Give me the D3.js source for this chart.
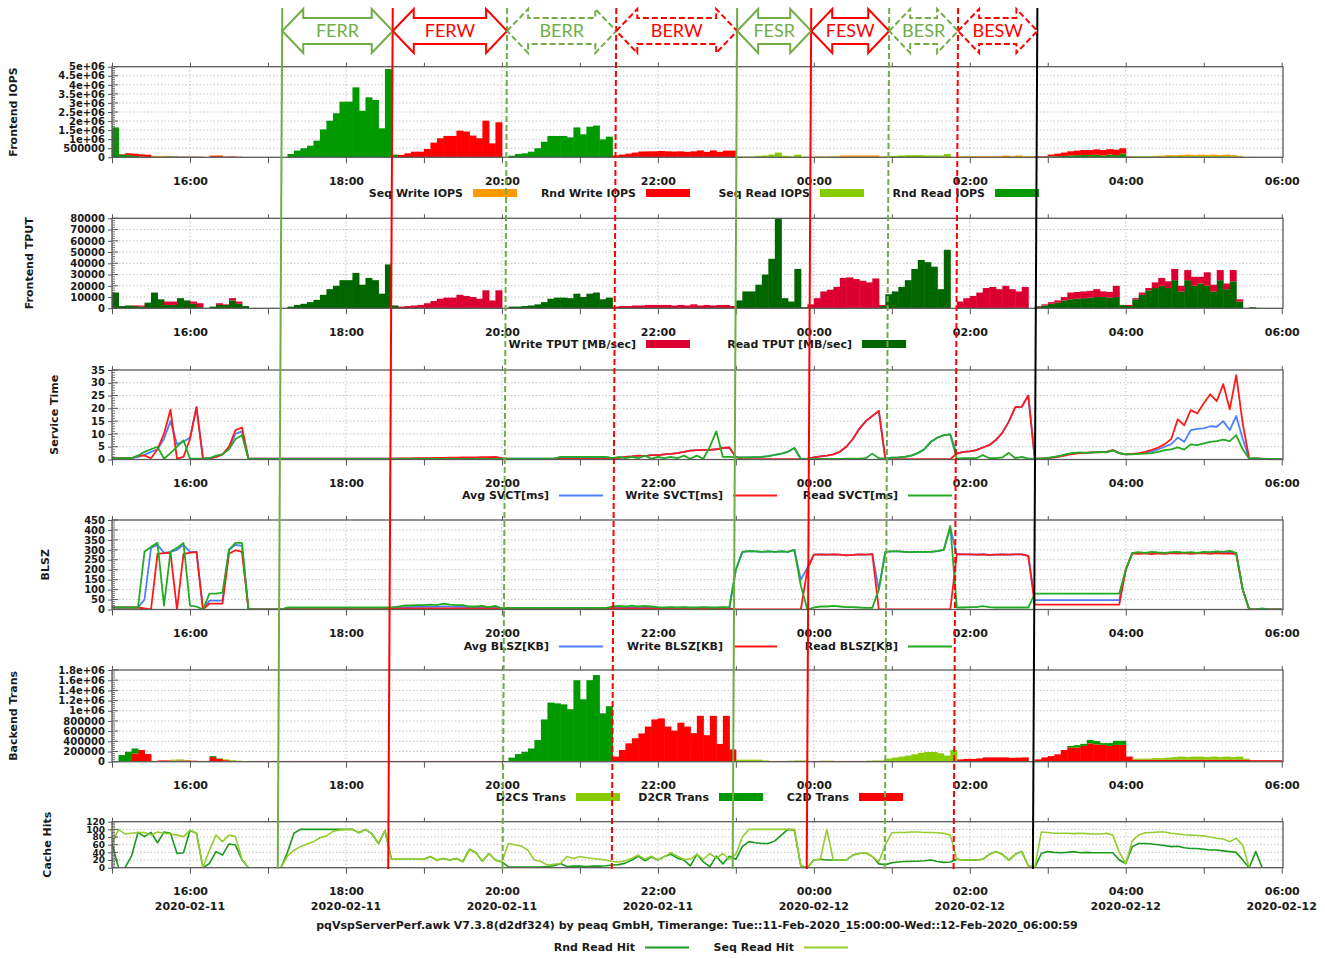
<!DOCTYPE html>
<html>
<head>
<meta charset="utf-8">
<script src="https://d3js.org/d3.v7.min.js"></script>
<style>
  body { margin: 0; background: #fff; }
</style>
</head>
<body>
<div id="chart"></div>
<script>
// 5 minute slots starting 2020-02-11 15:00, one row per hour
const seqWriteIopsK = [
  0,0,0,0,0,0,40,40,10,0,0,0,
  0,0,0,30,30,10,0,0,0,0,0,0,
  0,0,0,0,0,0,0,0,0,0,0,0,
  0,0,0,0,0,0,0,0,0,0,0,0,
  0,0,0,0,0,0,0,0,0,0,0,0,
  0,0,0,0,0,0,0,0,0,0,0,0,
  0,0,0,0,0,0,0,0,0,0,0,0,
  0,0,0,0,0,0,0,0,0,0,0,0,
  0,0,0,0,0,0,0,0,0,0,0,0,
  40,40,50,50,100,100,100,100,100,100,40,0,
  0,0,0,0,0,0,0,0,0,0,50,60,
  60,60,60,60,60,100,60,100,60,60,0,0,
  0,0,0,0,0,0,0,0,0,0,0,0,
  0,0,0,0,20,30,50,40,60,80,50,80,
  60,80,50,80,60,30,0,0,0,0,0,0
];
const rndWriteIopsK = [
  0,20,100,120,120,120,20,10,10,10,10,10,
  10,10,0,50,60,20,20,10,0,0,0,0,
  0,0,0,0,0,0,0,0,0,0,0,0,
  0,0,0,0,0,0,0,0,130,220,310,310,
  460,810,1050,1180,1180,1470,1420,1200,1050,2020,770,1930,
  0,0,0,0,0,0,0,0,0,0,0,0,
  0,0,0,0,0,100,150,200,260,320,330,330,
  350,330,320,330,300,330,380,300,380,300,370,370,
  0,0,0,0,0,0,0,0,0,0,0,0,
  0,0,0,0,0,0,0,0,0,0,0,0,
  0,0,0,0,0,0,0,0,0,0,0,0,
  0,0,0,0,0,0,0,0,0,0,30,30,
  100,140,180,230,250,270,270,300,300,300,300,300,
  20,0,0,0,0,0,0,0,0,0,0,0,
  0,0,0,0,0,0,0,0,0,0,0,0
];
const seqReadIopsK = [
  0,0,0,0,0,0,0,0,20,20,0,0,
  0,0,0,0,0,0,0,0,0,0,0,0,
  0,0,0,0,0,0,0,0,0,0,0,0,
  0,0,0,0,0,0,0,0,0,0,0,0,
  0,0,0,0,0,0,0,0,0,0,0,0,
  0,0,0,0,0,0,0,0,0,0,0,0,
  0,0,0,0,0,0,0,0,0,0,0,0,
  0,0,0,0,0,0,0,0,0,0,0,0,
  40,40,40,80,100,150,260,80,50,150,30,0,
  0,0,0,0,0,0,0,0,0,0,0,60,
  80,100,120,120,120,100,100,100,180,20,0,0,
  0,0,0,0,0,0,0,0,0,0,0,0,
  0,0,0,0,0,0,0,0,0,0,0,0,
  0,40,40,40,50,50,60,60,60,60,60,60,
  60,60,60,60,50,40,0,0,0,0,0,0
];
const rndReadIopsK = [
  1650,160,120,80,40,20,20,30,40,40,30,30,
  30,20,0,20,30,20,30,20,10,0,0,0,
  0,0,0,180,370,500,640,920,1540,2020,2430,3070,
  3070,3860,2570,3310,3160,1600,4870,150,0,0,0,0,
  0,0,0,0,0,0,0,0,0,0,0,0,
  0,90,180,220,310,500,860,1180,1180,1180,1100,1650,
  1270,1690,1750,990,1140,0,0,0,0,0,0,0,
  0,0,0,0,0,0,0,0,0,0,0,0,
  0,0,0,0,0,0,0,0,0,0,0,0,
  0,0,0,0,0,0,0,0,0,0,0,0,
  0,0,0,0,0,0,0,0,0,0,0,0,
  0,0,0,0,0,0,0,0,0,0,20,20,
  50,60,80,100,120,130,130,140,100,150,120,200,
  30,20,20,20,10,10,10,10,10,10,10,10,
  10,10,10,10,10,10,0,20,0,0,0,0
];

const writeTput = [
  0,0,0,500,1000,0,0,0,3000,3000,0,0,
  2000,3500,0,0,1500,500,2000,2000,0,0,0,0,
  0,0,0,0,0,0,0,0,0,0,0,0,
  0,0,0,0,0,0,0,0,1500,2000,2500,3000,
  4500,6500,8500,9500,9500,12000,11000,10000,8500,16000,7000,16000,
  0,0,0,0,0,0,0,0,0,0,0,0,
  0,0,0,0,0,1500,2000,2000,2500,2500,3000,3000,
  3000,3000,2500,3000,2500,3500,2500,3000,2500,3000,3000,2000,
  0,0,0,0,0,0,0,0,0,0,0,3500,
  9000,15000,16500,19000,27000,27500,26000,24500,23000,26500,1000,0,
  0,0,0,0,0,0,0,0,0,0,6000,9000,
  11000,14000,18000,19000,17000,20000,17000,15000,19000,0,500,1000,
  1500,2000,3000,6000,6000,6000,6000,7000,5000,5000,10000,0,
  1000,1000,2000,2000,5000,7000,6000,10000,5000,9000,8000,6000,
  12000,6000,9000,5000,10000,2000,0,0,0,0,0,0
];
const readTput = [
  14000,2000,2500,2000,1500,5000,14000,8000,3000,3000,9000,7000,
  4000,1000,0,1500,3000,3000,7000,4000,2000,0,0,0,
  0,0,0,1500,3000,4000,5500,7500,12000,17000,20000,25000,
  25000,31500,21000,27000,25000,13000,39000,2500,0,0,0,0,
  0,0,0,0,0,0,0,0,0,0,0,0,
  0,1500,1500,2000,2500,3500,5500,8500,9500,9500,9000,13000,
  10000,13000,14000,8000,9500,0,0,0,0,0,0,0,
  0,0,0,0,0,0,0,0,0,0,0,0,
  7000,15000,15000,21000,30000,44000,80000,9000,6000,35000,1000,0,
  0,0,0,0,0,0,0,0,0,0,2000,12500,
  15000,19000,25000,35000,43000,41000,37000,17000,52000,0,0,0,
  0,0,0,0,0,0,0,0,0,0,1500,2500,
  4000,5000,7000,8000,8500,9000,9500,10000,10000,9500,10000,3000,
  2000,8000,12000,16000,18000,20000,18000,25000,15000,25000,20000,22000,
  20000,15000,25000,17000,24000,6000,0,1000,0,0,0,0
];

// line panels have one more point, at 06:00
const avgSvct = [
  0.5,0.5,0.5,0.5,1,1.8,3,4,8,15,6,7,
  8.5,20.5,0.3,0.5,1,2,4.5,10,11,0.3,0.3,0.3,
  0.3,0.3,0.3,0.3,0.3,0.3,0.3,0.3,0.3,0.3,0.3,0.3,
  0.3,0.3,0.3,0.3,0.3,0.3,0.3,0.3,0.3,0.3,0.3,0.4,
  0.4,0.4,0.5,0.5,0.5,0.5,0.6,0.6,0.6,0.7,0.7,0.8,
  0.4,0.3,0.3,0.3,0.3,0.3,0.3,0.3,0.3,0.8,0.8,0.8,
  0.8,0.8,0.8,0.8,0.8,0.5,0.6,1,1.2,1.5,1.3,1.7,
  1.7,2,2.2,2.5,3,3.5,3.7,3.8,3.8,4,4.5,4.7,
  0.8,0.8,0.8,0.9,1,1.3,1.8,2.3,3,4.5,0.2,0.3,
  0.8,1.2,1.5,2,3,5,8,12,15,17,19,0.3,
  0.7,0.8,1,1.5,2.5,4,6.9,8.5,9.5,9.8,2.3,3,
  3.2,3.7,4.7,5.6,7.6,10.4,14.8,20.5,20.6,25,0.3,0.3,
  0.5,0.9,1.3,2,2.4,2.6,2.6,2.8,2.9,2.9,3.6,2.5,
  2,2.1,2.3,2.6,3.2,4,5,6,8.6,6.9,11.5,12,
  12.2,13,12.8,15,11.5,17,8,0.3,0.4,0.2,0.2,0.2,
  0.2
];
const writeSvct = [
  0.5,0.5,0.5,0.5,1.5,1.5,0.5,4,10,19.5,0.3,1,
  8,20.5,0.3,0.3,1,2,5,11.5,12.5,0.3,0.3,0.3,
  0.3,0.3,0.3,0.3,0.3,0.3,0.3,0.3,0.3,0.3,0.3,0.3,
  0.3,0.3,0.3,0.3,0.3,0.3,0.3,0.3,0.4,0.4,0.4,0.5,
  0.5,0.5,0.6,0.6,0.7,0.7,0.8,0.8,0.8,0.9,0.9,1,
  0.5,0.2,0.2,0.2,0.2,0.2,0.2,0.2,0.2,0.2,0.2,0.2,
  0.2,0.2,0.2,0.2,0.2,0.5,0.6,1,1.2,1.5,1.3,1.7,
  1.7,2,2.2,2.5,3,3.5,3.7,3.8,3.8,4,4.5,4.7,
  1,0.1,0.1,0.1,0.1,0.1,0.1,0.1,0.1,0.1,0.1,0.3,
  0.8,1.2,1.5,2,3,5,8,12,15,17,19,0.3,
  0.1,0.1,0.1,0.1,0.1,0.1,0.1,0.1,0.1,0.1,2.3,3,
  3.2,3.7,4.7,5.6,7.6,10.4,14.8,20.5,20.6,25,0.3,0.3,
  0.5,0.8,1.2,1.8,2.2,2.5,2.7,2.8,2.8,3,3.7,2.5,
  2,2.2,2.5,3,3.8,4.7,6,8,15.7,13.4,19.3,18,
  22,25.5,22.8,29.5,19.6,33,14,0.3,0.3,0.3,0.2,0.2,
  0.2
];
const readSvct = [
  0.5,0.5,0.5,0.5,1.5,3,4,5,0.3,2.5,5,7.5,
  0.3,0.3,0.3,0.5,1.5,2,4,8,9.5,0.2,0.2,0.2,
  0.2,0.2,0.2,0.2,0.2,0.2,0.2,0.2,0.2,0.2,0.2,0.2,
  0.2,0.2,0.2,0.2,0.2,0.2,0.2,0.2,0.2,0.2,0.2,0.2,
  0.2,0.2,0.2,0.2,0.2,0.2,0.2,0.2,0.2,0.2,0.2,0.2,
  0.3,0.3,0.3,0.3,0.3,0.3,0.3,0.3,0.3,1,1,1,
  1,1,1,1,1,0.5,1,0.5,1,0.5,1.5,0.3,
  1,0.5,1,0.5,1.5,0.3,1.5,0.3,5,11,1,1,
  0.8,0.8,0.8,0.9,1,1.3,1.8,2.3,3,4.5,0.2,0.2,
  0.2,0.2,0.2,0.2,0.2,0.3,0.3,0.3,0.5,2.3,0.5,0.3,
  0.7,0.8,1,1.5,2.5,4,6.9,8.5,9.5,9.8,0.3,0.5,
  0.5,0.5,1.7,0.5,0.5,0.8,2.6,0.5,1,0.3,0.3,0.3,
  0.6,1,1.5,2.2,2.6,2.8,2.6,2.8,3,2.8,3.6,2.5,
  2,2,2.2,2.3,2.5,3,3.7,4,4.7,3.9,5.9,5.6,
  6.3,6.9,7.2,7.8,7.2,9.5,4,0.3,0.5,0.2,0.2,0.2,
  0.2
];

const avgBlsz = [
  10,10,10,10,10,50,310,325,285,290,300,325,
  290,290,0,45,45,45,300,325,320,0,0,0,
  0,0,0,8,8,8,8,8,8,8,8,8,
  8,8,8,8,8,8,8,8,10,12,12,13,
  13,14,13,16,14,13,13,10,10,11,8,11,
  5,6,6,6,6,6,6,6,6,6,6,6,
  6,6,6,6,6,10,11,10,12,10,11,10,
  8,8,9,8,9,8,8,9,8,8,9,8,
  200,290,293,292,290,292,290,292,290,300,150,210,
  276,277,276,277,276,272,275,277,276,278,100,290,
  292,292,290,288,290,290,290,293,300,410,278,277,
  277,276,277,275,276,277,276,277,277,270,47,47,
  47,47,47,47,47,47,47,47,47,47,47,47,
  200,283,284,283,284,284,282,285,285,284,284,283,
  286,284,288,285,288,281,100,0,0,0,0,0,
  0
];
const writeBlsz = [
  10,10,10,10,10,5,0,280,283,285,0,280,
  285,290,0,30,30,30,280,298,290,0,0,0,
  0,0,0,5,5,5,5,5,5,5,5,5,
  5,5,5,5,5,5,5,5,5,5,5,5,
  5,5,5,5,5,5,5,5,5,5,5,5,
  5,5,5,5,5,5,5,5,5,5,5,5,
  5,5,5,5,5,5,5,5,5,5,5,5,
  5,5,5,5,5,5,5,5,5,5,5,5,
  0,0,0,0,0,0,0,0,0,0,0,200,
  276,277,276,277,276,272,275,277,276,278,0,0,
  0,0,0,0,0,0,0,0,0,0,278,277,
  277,276,277,275,276,277,276,277,277,270,25,25,
  25,25,25,25,25,25,25,25,25,25,25,25,
  200,282,280,282,278,282,280,283,281,283,280,282,
  283,280,284,281,282,278,100,0,0,0,0,0,
  0
];
const readBlsz = [
  10,10,10,10,10,290,315,335,20,290,310,335,
  20,15,0,80,80,85,300,335,335,0,0,0,
  0,0,0,10,10,10,10,10,10,10,10,10,
  10,10,10,10,10,10,10,10,15,20,20,22,
  22,25,22,30,25,22,22,15,15,18,12,18,
  5,8,8,8,8,8,8,8,8,8,8,8,
  8,8,8,8,8,15,18,15,20,15,18,15,
  12,10,12,10,12,10,10,12,10,10,12,10,
  200,290,293,292,290,292,290,292,290,300,120,0,
  10,15,15,18,15,12,12,10,8,8,100,290,
  292,292,290,288,290,290,290,293,300,420,10,10,
  12,12,17,12,10,10,10,10,10,10,80,80,
  80,80,80,80,80,80,80,80,80,80,80,80,
  200,285,288,285,290,287,285,288,290,286,288,285,
  290,288,292,290,295,285,100,0,0,5,0,0,
  0
];

const c2dTransK = [
  0,0,0,160,230,150,15,25,25,20,25,25,
  20,15,15,90,60,30,15,10,5,15,15,15,
  15,15,15,15,15,15,15,15,15,15,15,15,
  15,15,15,15,15,15,15,15,15,15,15,15,
  15,15,15,15,15,15,15,15,15,15,15,15,
  15,15,15,15,15,15,15,15,15,15,15,15,
  15,15,15,15,15,100,230,360,460,555,690,830,
  850,690,610,765,690,560,900,520,900,350,900,240,
  15,15,15,15,15,15,15,15,15,15,15,15,
  15,15,15,15,15,15,15,15,15,15,15,15,
  15,15,15,15,15,15,15,15,15,15,45,55,
  55,65,85,85,85,85,75,80,85,0,45,85,
  110,145,230,280,280,310,360,340,330,310,330,330,
  100,40,40,40,40,40,40,40,40,40,40,40,
  40,40,40,40,40,40,40,30,30,30,30,30
];
const d2crTransK = [
  0,130,195,100,0,0,0,0,0,0,0,0,
  0,0,0,20,0,0,0,0,0,0,0,0,
  0,0,0,0,0,0,0,0,0,0,0,0,
  0,0,0,0,0,0,0,0,0,0,0,0,
  0,0,0,0,0,0,0,0,0,0,0,0,
  0,65,135,180,245,410,815,1145,1130,1110,1015,1585,
  1210,1585,1685,935,1075,0,0,0,0,0,0,0,
  0,0,0,0,0,0,0,0,0,0,0,0,
  0,0,0,0,0,0,0,0,0,0,0,0,
  0,0,0,0,0,0,0,0,0,0,0,0,
  0,0,0,0,0,0,0,0,0,0,0,0,
  0,0,0,0,0,0,0,0,0,0,0,0,
  0,0,0,30,45,40,65,65,35,55,80,80,
  0,0,0,0,0,0,0,0,0,0,0,0,
  0,0,0,0,0,0,0,0,0,0,0,0
];
const d2csTransK = [
  0,0,0,0,0,0,0,0,0,20,20,10,
  0,0,0,0,10,15,15,10,0,0,0,0,
  0,0,0,0,0,0,0,0,0,0,0,0,
  0,0,0,0,0,0,0,0,0,0,0,0,
  0,0,0,0,0,0,0,0,0,0,0,0,
  0,0,0,0,0,0,0,0,0,0,0,0,
  0,0,0,0,0,0,0,0,0,0,0,0,
  0,0,0,0,0,0,0,0,0,0,0,0,
  25,25,25,25,10,0,0,0,5,10,10,0,
  0,5,5,0,0,0,0,0,5,10,10,45,
  65,85,105,130,160,175,175,150,105,215,0,0,
  0,0,0,0,0,0,0,0,0,0,0,0,
  0,0,0,0,0,0,0,0,0,0,0,0,
  0,20,20,20,30,30,40,50,60,50,60,60,
  50,60,50,60,50,60,20,0,0,0,0,0
];

const rndReadHit = [
  63,0,0,30,92,81,92,65,93,90,37,39,
  97,90,0,11,42,33,62,59,20,0,0,0,
  0,0,0,40,90,100,100,100,100,100,100,100,
  100,100,91,100,88,63,97,22,22,22,22,22,
  22,29,20,24,20,24,16,48,39,17,37,20,
  15,2,2,2,2,2,2,3,5,11,3,4,
  4,3,4,4,5,7,8,12,20,30,18,28,
  20,29,35,25,20,5,35,15,2,30,10,30,
  22,55,68,65,63,63,70,85,100,98,5,0,
  20,22,20,20,20,20,33,37,39,29,10,8,
  13,15,16,17,17,18,20,16,14,15,22,20,
  20,20,22,35,42,35,20,35,42,5,0,37,
  42,40,39,40,42,39,40,39,39,39,39,20,
  11,55,63,63,62,60,58,55,56,52,50,50,
  48,46,46,44,42,40,20,0,42,0,0,0,
  0
];
const seqReadHit = [
  63,100,88,90,92,92,85,93,90,88,85,81,
  98,90,0,46,85,68,85,81,22,0,0,0,
  0,0,0,30,45,55,62,68,78,83,95,98,
  100,100,91,100,88,63,97,22,22,22,22,22,
  22,29,20,24,20,24,16,48,39,17,37,20,
  15,63,60,56,46,20,16,7,9,11,29,24,
  29,26,24,22,20,16,15,18,25,33,22,30,
  20,29,39,30,22,22,35,22,37,25,37,22,
  35,80,100,100,100,100,100,100,100,100,5,0,
  20,22,100,20,20,20,33,37,39,29,15,60,
  91,92,92,93,93,92,92,91,90,85,22,20,
  20,20,22,35,42,35,20,35,42,5,0,93,
  92,90,90,90,89,90,89,88,88,90,85,40,
  11,70,85,91,92,93,93,90,88,86,85,84,
  83,80,77,75,68,77,59,0,0,0,0,0,
  0
];

const iopsTicks = [0, 500000, 1000000, 1500000, 2000000, 2500000, 3000000, 3500000, 4000000, 4500000, 5000000];
const tputTicks = [0, 10000, 20000, 30000, 40000, 50000, 60000, 70000, 80000];
const svctTicks = [0, 5, 10, 15, 20, 25, 30, 35];
const blszTicks = [0, 50, 100, 150, 200, 250, 300, 350, 400, 450];
const transTicks = [0, 200000, 400000, 600000, 800000, 1000000, 1200000, 1400000, 1600000, 1800000];
const hitTicks = [0, 20, 40, 60, 80, 100, 120];

const phaseNames = ["FERR", "FERW", "BERR", "BERW", "FESR", "FESW", "BESR", "BESW"];
const phaseStarts = ["2020-02-11 17:11", "2020-02-11 18:36", "2020-02-11 20:04", "2020-02-11 21:28",
                     "2020-02-11 23:01", "2020-02-11 23:58", "2020-02-12 00:58", "2020-02-12 01:51"];
const phaseEnd = "2020-02-12 02:52";

const footerText = "pqVspServerPerf.awk V7.3.8(d2df324) by peaq GmbH, Timerange: Tue::11-Feb-2020_15:00:00-Wed::12-Feb-2020_06:00:59";

[seqWriteIopsK, rndWriteIopsK, seqReadIopsK, rndReadIopsK, writeTput, readTput,
 c2dTransK, d2crTransK, d2csTransK].forEach((a, i) => { if (a.length !== 180) throw new Error("bar series " + i + " has " + a.length); });
[avgSvct, writeSvct, readSvct, avgBlsz, writeBlsz, readBlsz, rndReadHit, seqReadHit]
  .forEach((a, i) => { if (a.length !== 181) throw new Error("line series " + i + " has " + a.length); });

const start = new Date(2020, 1, 11, 15, 0, 0);
const end = new Date(2020, 1, 12, 6, 0, 59);
const slotTime = i => new Date(start.getTime() + i * 300000);
const parseTime = d3.timeParse("%Y-%m-%d %H:%M");

const width = 1325, height = 958;
const svg = d3.select("#chart").append("svg")
    .attr("width", width)
    .attr("height", height)
    .style("background", "#fff");

const x = d3.scaleTime().domain([start, end]).range([112, 1283]);
const [x0, x1] = x.range();
const hourly = d3.timeHour.every(1);
const twoHourly = d3.timeHour.every(2);
const fmtTick = v => v >= 1e6 ? (v / 1e6) + "e+06" : String(v);
const fmtHour = d3.timeFormat("%H:%M");
const fmtDate = d3.timeFormat("%Y-%m-%d");

const labelFont = sel => sel
    .attr("font-family", "DejaVu Sans, sans-serif")
    .attr("font-size", 11)
    .attr("font-weight", "bold")
    .attr("fill", "#1a1a1a");

function panel(p) {
    const y = d3.scaleLinear().domain([0, p.ticks[p.ticks.length - 1]]).range([p.bottom, p.top]);
    const g = svg.append("g");

    svg.append("clipPath").attr("id", "clip" + p.id)
        .append("rect")
        .attr("x", x0).attr("y", p.top)
        .attr("width", x1 - x0).attr("height", p.bottom - p.top);

    g.append("g").selectAll("line")
        .data(p.ticks.slice(1, -1))
        .join("line")
        .attr("x1", x0).attr("x2", x1)
        .attr("y1", d => y(d)).attr("y2", d => y(d))
        .attr("stroke", "#b5b5b5").attr("stroke-width", 0.8)
        .attr("stroke-dasharray", "1.5,2");

    g.append("g").selectAll("line")
        .data(x.ticks(twoHourly).filter(d => x(d) < x1 - 3))
        .join("line")
        .attr("x1", d => x(d)).attr("x2", d => x(d))
        .attr("y1", p.top).attr("y2", p.bottom)
        .attr("stroke", "#b5b5b5").attr("stroke-width", 0.8)
        .attr("stroke-dasharray", "1.5,2");

    const plot = g.append("g").attr("clip-path", "url(#clip" + p.id + ")");
    return { g, y, plot };
}

function axes(p, g, y) {
    const step = p.ticks[1] - p.ticks[0];
    const minors = d3.range(0, p.ticks[p.ticks.length - 1], step / 5).filter((d, i) => i % 5 !== 0);
    g.append("g").selectAll("line")
        .data(minors)
        .join("line")
        .attr("x1", x0).attr("x2", x0 + 3)
        .attr("y1", d => y(d)).attr("y2", d => y(d))
        .attr("stroke", "#555").attr("stroke-width", 0.8);

    g.append("g").selectAll("line")
        .data(p.ticks)
        .join("line")
        .attr("x1", x0).attr("x2", x0 + 6)
        .attr("y1", d => y(d)).attr("y2", d => y(d))
        .attr("stroke", "#555");

    g.append("g")
        .attr("transform", `translate(${x0},0)`)
        .call(d3.axisLeft(y).tickValues(p.ticks).tickFormat(fmtTick).tickSizeInner(4).tickSizeOuter(0).tickPadding(3))
        .call(a => a.select(".domain").remove())
        .call(a => a.selectAll("line").attr("stroke", "#555"))
        .call(a => a.selectAll("text").call(labelFont).attr("font-size", p.tickSize || 10));

    g.append("g")
        .attr("transform", `translate(0,${p.bottom})`)
        .call(d3.axisBottom(x).ticks(hourly).tickSizeInner(6).tickSizeOuter(0).tickPadding(14)
            .tickFormat(d => d.getHours() % 2 === 0 ? fmtHour(d) : ""))
        .call(a => a.select(".domain").remove())
        .call(a => a.selectAll("line").attr("stroke", "#555"))
        .call(a => a.selectAll("text").call(labelFont));

    g.append("g")
        .attr("transform", `translate(0,${p.top})`)
        .call(d3.axisTop(x).ticks(hourly).tickSizeInner(4).tickSizeOuter(0).tickFormat(""))
        .call(a => a.select(".domain").remove())
        .call(a => a.selectAll("line").attr("stroke", "#555"));

    g.append("rect")
        .attr("x", x0).attr("y", p.top)
        .attr("width", x1 - x0).attr("height", p.bottom - p.top)
        .attr("fill", "none").attr("stroke", "#5a5a5a").attr("stroke-width", 1.3);

    g.append("text")
        .attr("transform", `translate(${p.titleX},${(p.top + p.bottom) / 2}) rotate(-90)`)
        .attr("text-anchor", "middle")
        .attr("dy", "0.35em")
        .text(p.title)
        .call(labelFont);
}

function bars(plot, y, keys, series, colors, unit) {
    const table = d3.range(180).map(i => {
        const row = { t: slotTime(i) };
        keys.forEach((k, j) => row[k] = series[j][i] * unit);
        return row;
    });
    const layers = d3.stack().keys(keys)(table);
    plot.append("g").selectAll("g")
        .data(layers)
        .join("g")
        .attr("fill", (d, i) => colors[i])
        .selectAll("rect")
        .data(d => d.filter(v => v[1] > v[0]))
        .join("rect")
        .attr("x", d => x(d.data.t))
        .attr("width", d => x(new Date(d.data.t.getTime() + 300000)) - x(d.data.t) + 0.5)
        .attr("y", d => y(d[1]))
        .attr("height", d => y(d[0]) - y(d[1]));
}

function lines(plot, y, series, colors, w) {
    const line = d3.line()
        .x((d, i) => x(slotTime(i)))
        .y(d => y(d));
    plot.append("g").selectAll("path")
        .data(series)
        .join("path")
        .attr("d", line)
        .attr("fill", "none")
        .attr("stroke", (d, i) => colors[i])
        .attr("stroke-width", w)
        .attr("stroke-linejoin", "round");
}

function legend(yc, entries) {
    entries.forEach(e => {
        svg.append("text")
            .attr("x", e.x).attr("y", yc)
            .attr("dy", "0.35em")
            .attr("text-anchor", "end")
            .text(e.label)
            .call(labelFont);
        if (e.line) {
            svg.append("line")
                .attr("x1", e.x + 10).attr("x2", e.x + 54)
                .attr("y1", yc).attr("y2", yc)
                .attr("stroke", e.color).attr("stroke-width", 2);
        } else {
            svg.append("rect")
                .attr("x", e.x + 10).attr("y", yc - 4)
                .attr("width", 44).attr("height", 8)
                .attr("fill", e.color);
        }
    });
}

const orange = "#ff9900", red = "#ff0000", lime = "#88cc00", green = "#009900";

// Frontend IOPS
const p1 = { id: 1, title: "Frontend IOPS", top: 66.7, bottom: 157.3, titleX: 13, ticks: iopsTicks };
let s = panel(p1);
bars(s.plot, s.y, ["Rnd Read IOPS", "Seq Read IOPS", "Rnd Write IOPS", "Seq Write IOPS"],
    [rndReadIopsK, seqReadIopsK, rndWriteIopsK, seqWriteIopsK], [green, lime, red, orange], 1000);
axes(p1, s.g, s.y);
legend(193, [
    { label: "Seq Write IOPS", x: 463, color: orange },
    { label: "Rnd Write IOPS", x: 636, color: red },
    { label: "Seq Read IOPS", x: 810, color: lime },
    { label: "Rnd Read IOPS", x: 985, color: green }
]);

// Frontend TPUT
const p2 = { id: 2, title: "Frontend TPUT", top: 218.3, bottom: 308.3, titleX: 29, ticks: tputTicks };
s = panel(p2);
bars(s.plot, s.y, ["Read TPUT", "Write TPUT"], [readTput, writeTput], ["#006600", "#dc0030"], 1);
axes(p2, s.g, s.y);
legend(344, [
    { label: "Write TPUT [MB/sec]", x: 636, color: "#dc0030" },
    { label: "Read TPUT [MB/sec]", x: 852, color: "#006600" }
]);

// Service Time
const p3 = { id: 3, title: "Service Time", top: 370, bottom: 459.5, titleX: 54, ticks: svctTicks };
s = panel(p3);
lines(s.plot, s.y, [avgSvct, writeSvct, readSvct], ["#4d7fff", "#ff1a1a", "#22aa22"], 1.8);
axes(p3, s.g, s.y);
legend(495.5, [
    { label: "Avg SVCT[ms]", x: 549, color: "#4d7fff", line: true },
    { label: "Write SVCT[ms]", x: 723, color: "#ff1a1a", line: true },
    { label: "Read SVCT[ms]", x: 898, color: "#22aa22", line: true }
]);

// BLSZ
const p4 = { id: 4, title: "BLSZ", top: 520, bottom: 609.5, titleX: 45, ticks: blszTicks };
s = panel(p4);
lines(s.plot, s.y, [avgBlsz, writeBlsz, readBlsz], ["#4d7fff", "#ff1a1a", "#22aa22"], 1.8);
axes(p4, s.g, s.y);
legend(646.5, [
    { label: "Avg BLSZ[KB]", x: 549, color: "#4d7fff", line: true },
    { label: "Write BLSZ[KB]", x: 723, color: "#ff1a1a", line: true },
    { label: "Read BLSZ[KB]", x: 898, color: "#22aa22", line: true }
]);

// Backend Trans
const p5 = { id: 5, title: "Backend Trans", top: 670, bottom: 761.7, titleX: 13, ticks: transTicks };
s = panel(p5);
bars(s.plot, s.y, ["C2D Trans", "D2CR Trans", "D2CS Trans"], [c2dTransK, d2crTransK, d2csTransK], [red, green, lime], 1000);
axes(p5, s.g, s.y);
legend(797, [
    { label: "D2CS Trans", x: 566, color: lime },
    { label: "D2CR Trans", x: 709, color: green },
    { label: "C2D Trans", x: 849, color: red }
]);

// Cache Hits
const p6 = { id: 6, title: "Cache Hits", top: 821.7, bottom: 867.7, titleX: 47, ticks: hitTicks, tickSize: 9 };
s = panel(p6);
lines(s.plot, s.y, [rndReadHit, seqReadHit], ["#1a9a1a", "#95cc30"], 1.6);
axes(p6, s.g, s.y);
svg.append("g").selectAll("text")
    .data(x.ticks(twoHourly))
    .join("text")
    .attr("x", d => x(d))
    .attr("y", p6.bottom + 38)
    .attr("dy", "0.35em")
    .attr("text-anchor", "middle")
    .text(d => fmtDate(d))
    .call(labelFont);
svg.append("text")
    .attr("x", 697).attr("y", 925)
    .attr("dy", "0.35em")
    .attr("text-anchor", "middle")
    .text(footerText)
    .call(labelFont);
legend(947.5, [
    { label: "Rnd Read Hit", x: 635, color: "#1a9a1a", line: true },
    { label: "Seq Read Hit", x: 794, color: "#95cc30", line: true }
]);

// phase markers and arrows
const phaseGreen = "#70ad47";
const markers = phaseStarts.map((t, i) => ({
    t: parseTime(t),
    color: phaseNames[i].endsWith("R") ? phaseGreen : red,
    dashed: phaseNames[i].startsWith("B"),
    name: phaseNames[i]
}));
markers.push({ t: parseTime(phaseEnd), color: "#000", dashed: false, name: null });

const lineTop = 8, lineBottom = 869, skew = 4.5;
svg.append("g").selectAll("line")
    .data(markers)
    .join("line")
    .attr("x1", d => x(d.t)).attr("y1", lineTop)
    .attr("x2", d => x(d.t) - skew).attr("y2", lineBottom)
    .attr("stroke", d => d.color)
    .attr("stroke-width", 2)
    .attr("stroke-dasharray", d => d.dashed ? "6,3" : null);

const cy = 31, headH = 22, shaftH = 13, headL = 21;
const arrows = markers.slice(0, -1).map((m, i) => ({ ...m, xa: x(m.t), xb: x(markers[i + 1].t) }));
const arrowG = svg.append("g");
arrowG.selectAll("path")
    .data(arrows)
    .join("path")
    .attr("d", d => {
        const a = d.xa, b = d.xb;
        return d3.line()([
            [a, cy], [a + headL, cy - headH], [a + headL, cy - shaftH], [b - headL, cy - shaftH],
            [b - headL, cy - headH], [b, cy], [b - headL, cy + headH], [b - headL, cy + shaftH],
            [a + headL, cy + shaftH], [a + headL, cy + headH]
        ]) + "Z";
    })
    .attr("fill", "#fff")
    .attr("stroke", d => d.color)
    .attr("stroke-width", 2)
    .attr("stroke-linejoin", "miter")
    .attr("stroke-dasharray", d => d.dashed ? "6,3" : null);

arrowG.selectAll("text")
    .data(arrows)
    .join("text")
    .attr("x", d => (d.xa + d.xb) / 2)
    .attr("y", cy)
    .attr("dy", "0.36em")
    .attr("text-anchor", "middle")
    .attr("font-family", "Lato, sans-serif")
    .attr("font-size", 18)
    .attr("fill", d => d.color)
    .text(d => d.name);
</script>
</body>
</html>
